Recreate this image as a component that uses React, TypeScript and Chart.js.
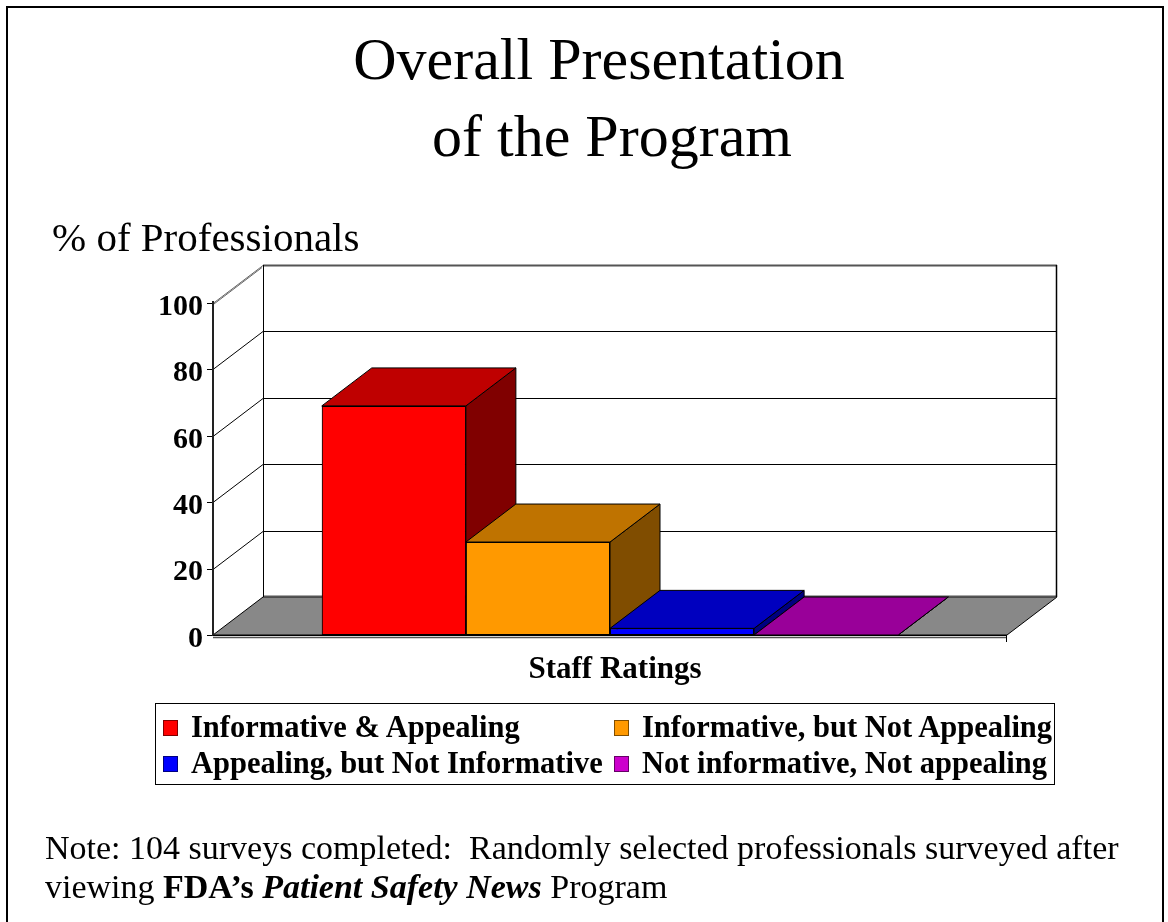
import React, { useEffect, useRef } from "react";
import { Chart, registerables } from "chart.js";

Chart.register(...registerables);

// ---------- data ----------
const CATEGORIES = ["Staff Ratings"];
const SERIES_LABELS = [
  "Informative & Appealing",
  "Informative, but Not Appealing",
  "Appealing, but Not Informative",
  "Not informative, Not appealing",
];
const SERIES_VALUES = [69, 28, 2, 0];
const Y_TICKS = [0, 20, 40, 60, 80, 100];

// ---------- styles ----------
const FRONT_COLORS = ["#FF0000", "#FF9900", "#0000FF", "#CC00CC"];
const TOP_COLORS = ["#BF0000", "#BF7300", "#0000BF", "#990099"];
const SIDE_COLORS = ["#800000", "#804D00", "#000080", "#660066"];
const SERIF = "'Liberation Serif', 'Times New Roman', serif";
const DX = 50;
const DY = -38;

function poly(ctx: CanvasRenderingContext2D, pts: number[][], fill: string | null, stroke: string, lw = 1) {
  ctx.beginPath();
  ctx.moveTo(pts[0][0], pts[0][1]);
  for (let i = 1; i < pts.length; i++) ctx.lineTo(pts[i][0], pts[i][1]);
  ctx.closePath();
  if (fill) {
    ctx.fillStyle = fill;
    ctx.fill();
  }
  ctx.strokeStyle = stroke;
  ctx.lineWidth = lw;
  ctx.stroke();
}

function line(ctx: CanvasRenderingContext2D, x1: number, y1: number, x2: number, y2: number, color: string, lw = 1) {
  ctx.beginPath();
  ctx.moveTo(x1, y1);
  ctx.lineTo(x2, y2);
  ctx.strokeStyle = color;
  ctx.lineWidth = lw;
  ctx.stroke();
}

const depthPlugin = {
  id: "depth3d",
  beforeDatasetsDraw(chart: any) {
    const ctx: CanvasRenderingContext2D = chart.ctx;
    const { left: L, right: R, top: T, bottom: B } = chart.chartArea;
    const ys = chart.scales.y;
    ctx.save();
    // floor
    poly(ctx, [[L, B], [L + DX, B + DY], [R + DX, B + DY], [R, B]], "#888888", "#000", 1);
    line(ctx, L + DX, B + DY - 0.5, R + DX, B + DY - 0.5, "#555", 2);
    // grid on back and left walls
    Y_TICKS.forEach((v) => {
      const y = Math.round(ys.getPixelForValue(v)) + 0.5;
      if (v > 0) {
        const top = v === Y_TICKS[Y_TICKS.length - 1];
        line(ctx, L + DX, y + DY, R + DX, y + DY, top ? "#555" : "#000", top ? 2 : 1);
        line(ctx, L, y, L + DX, y + DY, top ? "#666" : "#000", 1);
        if (top) line(ctx, L - 1, y + 2, L + DX - 1, y + DY + 2, "#666", 1);
      }
      // ticks on front axis
      line(ctx, L - 6, y, L, y, "#000", 1);
    });
    // back wall edges
    const yTop = ys.getPixelForValue(Y_TICKS[Y_TICKS.length - 1]);
    line(ctx, L + DX + 0.5, yTop + DY, L + DX + 0.5, B + DY, "#000", 1);
    line(ctx, R + DX - 0.5, yTop + DY, R + DX - 0.5, B + DY, "#000", 1.5);
    // front y axis
    line(ctx, L, T - 2, L, B + 1, "#222", 2);
    // front floor edge
    line(ctx, L, B + 0.5, R, B + 0.5, "#000", 1);
    line(ctx, L, B + 2.5, R, B + 2.5, "#555", 1.5);
    line(ctx, R - 0.5, B, R - 0.5, B + 7, "#000", 1);
    ctx.restore();
  },
  afterDatasetsDraw(chart: any) {
    const ctx: CanvasRenderingContext2D = chart.ctx;
    ctx.save();
    chart.data.datasets.forEach((_ds: any, i: number) => {
      const meta = chart.getDatasetMeta(i);
      meta.data.forEach((el: any) => {
        const { x, y, width, base } = el.getProps(["x", "y", "width", "base"], true);
        const l = x - width / 2;
        const r = x + width / 2;
        el.draw(ctx);
        poly(ctx, [[r, y], [r + DX, y + DY], [r + DX, base + DY], [r, base]], SIDE_COLORS[i], "#000", 1);
        poly(ctx, [[l, y], [l + DX, y + DY], [r + DX, y + DY], [r, y]], TOP_COLORS[i], "#000", 1);
      });
    });
    ctx.restore();
  },
};

function Text({ left, baseline, size, children, weight = "normal", width, align = "left" }: any) {
  return (
    <div
      style={{
        position: "absolute",
        left,
        top: baseline - 0.8375 * size,
        width,
        textAlign: align,
        fontSize: size,
        lineHeight: `${size}px`,
        fontWeight: weight,
        whiteSpace: "nowrap",
        fontFamily: SERIF,
        color: "#000",
      }}
    >
      {children}
    </div>
  );
}

export default function App() {
  const canvasRef = useRef<HTMLCanvasElement | null>(null);

  useEffect(() => {
    if (!canvasRef.current) return;
    const chart = new Chart(canvasRef.current, {
      type: "bar",
      data: {
        labels: CATEGORIES,
        datasets: SERIES_LABELS.map((label, i) => ({
          label,
          data: [SERIES_VALUES[i]],
          backgroundColor: FRONT_COLORS[i],
          borderColor: "#000",
          borderWidth: 1,
          borderSkipped: false,
          barPercentage: 1,
          categoryPercentage: 0.726,
        })),
      },
      options: {
        responsive: false,
        animation: false,
        events: [],
        layout: { padding: { left: 113, right: 161, top: 303, bottom: 227 } },
        plugins: { legend: { display: false }, title: { display: false }, tooltip: { enabled: false } },
        scales: {
          x: {
            type: "category",
            grid: { display: false, drawTicks: false },
            border: { display: false },
            ticks: {
              color: "#000",
              padding: 16,
              labelOffset: 5,
              font: { family: SERIF, size: 31, weight: "bold" },
            },
            afterFit: (s: any) => {
              s.height = 60;
            },
          },
          y: {
            min: Y_TICKS[0],
            max: Y_TICKS[Y_TICKS.length - 1],
            grid: { display: false, drawTicks: false },
            border: { display: false },
            ticks: {
              stepSize: Y_TICKS[1] - Y_TICKS[0],
              color: "#000",
              padding: 10,
              labelOffset: 4,
              font: { family: SERIF, size: 30, weight: "bold" },
            },
            afterFit: (s: any) => {
              s.width = 100;
            },
          },
        },
      },
      plugins: [depthPlugin],
    } as any);
    return () => chart.destroy();
  }, []);

  const legendCols = [163, 614];
  const legendRows = [738, 774];

  return (
    <div
      style={{
        position: "absolute",
        left: 0,
        top: 0,
        width: 1168,
        height: 922,
        background: "#fff",
        overflow: "hidden",
      }}
    >
      <div
        style={{
          position: "absolute",
          left: 6,
          top: 6,
          width: 1158,
          height: 940,
          boxSizing: "border-box",
          border: "2px solid #000",
        }}
      />
      <canvas ref={canvasRef} width={1168} height={922} style={{ position: "absolute", left: 0, top: 0 }} />

      <Text left={99} width={1000} align="center" baseline={79} size={60}>
        Overall Presentation
      </Text>
      <Text left={112} width={1000} align="center" baseline={156} size={60}>
        of the Program
      </Text>
      <Text left={52} baseline={251} size={41}>
        % of Professionals
      </Text>

      <div
        style={{
          position: "absolute",
          left: 155,
          top: 703,
          width: 900,
          height: 82,
          boxSizing: "border-box",
          border: "1px solid #000",
        }}
      />
      {SERIES_LABELS.map((label, i) => {
        const col = legendCols[i % 2];
        const base = legendRows[Math.floor(i / 2)];
        return (
          <React.Fragment key={label}>
            <div
              style={{
                position: "absolute",
                left: col,
                top: base - 18,
                width: 15,
                height: 16,
                boxSizing: "border-box",
                background: FRONT_COLORS[i],
                border: `1.5px solid ${SIDE_COLORS[i]}`,
              }}
            />
            <Text left={col + 28} baseline={base} size={30.5} weight="bold">
              {label}
            </Text>
          </React.Fragment>
        );
      })}

      <Text left={45} baseline={859} size={34}>
        Note: 104 surveys completed:&nbsp; Randomly selected professionals surveyed after
      </Text>
      <Text left={45} baseline={898} size={34}>
        viewing <b>FDA’s</b> <b><i>Patient Safety News</i></b> Program
      </Text>
    </div>
  );
}
